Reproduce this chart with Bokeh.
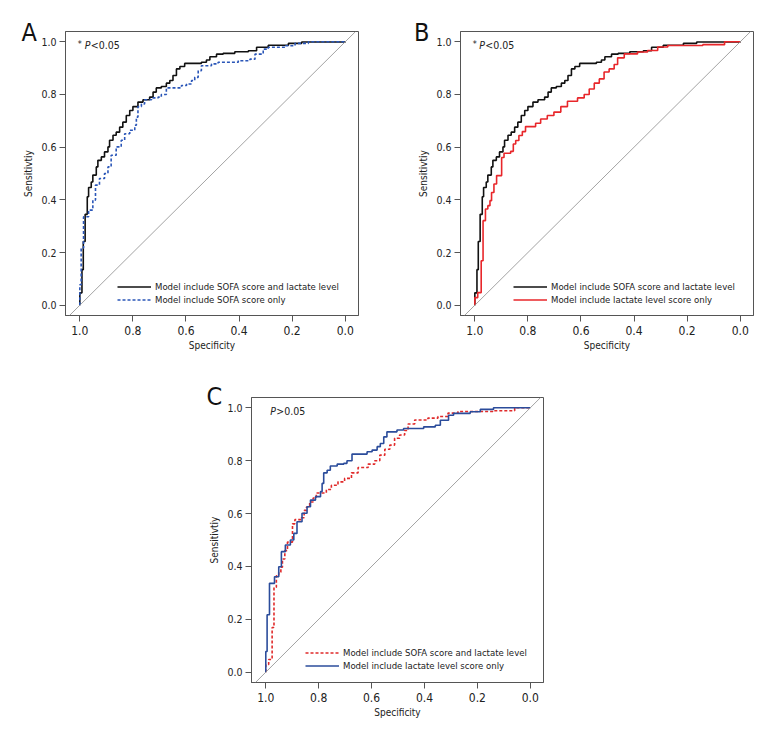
import numpy as np
from bokeh.plotting import figure
from bokeh.models import (Range1d, Slope, Label, Legend, LegendItem, Spacer,
                          FixedTicker, Title)
from bokeh.layouts import row, column
from bokeh.embed import file_html
from bokeh.resources import INLINE

FONT = "DejaVu Sans Condensed, Roboto, sans-serif"

# ---------------- data ----------------
tick_values = [0.0, 0.2, 0.4, 0.6, 0.8, 1.0]
tick_labels = ["0.0", "0.2", "0.4", "0.6", "0.8", "1.0"]

# Model include SOFA score and lactate level
combined_spec = [1.000, 1.000, 0.992, 0.987, 0.980, 0.972, 0.967, 0.957, 0.951, 0.938,
                 0.932, 0.919, 0.907, 0.894, 0.888, 0.875, 0.863, 0.850, 0.838, 0.825,
                 0.812, 0.800, 0.781, 0.762, 0.737, 0.724, 0.712, 0.693, 0.674, 0.661,
                 0.649, 0.636, 0.623, 0.605, 0.542, 0.523, 0.510, 0.485, 0.460, 0.416,
                 0.365, 0.334, 0.290, 0.214, 0.164, 0.000]
combined_sens = [0.000, 0.047, 0.135, 0.242, 0.345, 0.412, 0.447, 0.468, 0.494, 0.525,
                 0.550, 0.563, 0.582, 0.601, 0.626, 0.645, 0.657, 0.676, 0.695, 0.720,
                 0.739, 0.754, 0.771, 0.780, 0.790, 0.809, 0.825, 0.830, 0.843, 0.853,
                 0.872, 0.897, 0.906, 0.918, 0.922, 0.931, 0.943, 0.953, 0.956, 0.962,
                 0.966, 0.979, 0.987, 0.994, 0.999, 1.000]

# Model include SOFA score only
sofa_spec = [1.000, 1.000, 0.995, 0.986, 0.967, 0.951, 0.941, 0.926, 0.907, 0.894,
             0.882, 0.863, 0.844, 0.831, 0.812, 0.793, 0.787, 0.781, 0.768, 0.756,
             0.730, 0.705, 0.693, 0.674, 0.617, 0.598, 0.579, 0.567, 0.554, 0.542,
             0.504, 0.479, 0.403, 0.359, 0.340, 0.309, 0.290, 0.227, 0.189, 0.139,
             0.000]
sofa_sens = [0.000, 0.078, 0.217, 0.336, 0.361, 0.399, 0.456, 0.481, 0.500, 0.525,
             0.569, 0.601, 0.626, 0.651, 0.664, 0.683, 0.714, 0.754, 0.764, 0.780,
             0.787, 0.790, 0.800, 0.825, 0.834, 0.840, 0.853, 0.865, 0.890, 0.909,
             0.916, 0.922, 0.928, 0.934, 0.953, 0.972, 0.979, 0.985, 0.994, 1.000,
             1.000]

# Model include lactate level only
lact_spec = [1.000, 1.000, 0.989, 0.976, 0.969, 0.960, 0.951, 0.943, 0.937, 0.928,
             0.918, 0.899, 0.890, 0.865, 0.855, 0.846, 0.834, 0.821, 0.809, 0.771,
             0.752, 0.727, 0.702, 0.676, 0.651, 0.613, 0.588, 0.569, 0.550, 0.531,
             0.513, 0.494, 0.475, 0.462, 0.437, 0.387, 0.349, 0.311, 0.273, 0.141,
             0.059, 0.000]
lact_sens = [0.000, 0.029, 0.048, 0.169, 0.321, 0.365, 0.378, 0.397, 0.428, 0.460,
             0.492, 0.561, 0.577, 0.584, 0.612, 0.625, 0.644, 0.659, 0.678, 0.691,
             0.707, 0.720, 0.733, 0.754, 0.774, 0.787, 0.800, 0.821, 0.843, 0.859,
             0.885, 0.897, 0.914, 0.939, 0.954, 0.961, 0.967, 0.980, 0.986, 0.989,
             1.000, 1.000]

X_START, X_END = 1.054, -0.05
Y_START, Y_END = -0.039, 1.039
GRAY = "#555555"


def panel(letter, letter_dx, letter_standoff, frame_w, frame_h, bl, br, bt, bb,
          curves, legend_xy, ptext_parts):
    p = figure(width=bl + frame_w + br, height=bt + frame_h + bb,
               frame_width=frame_w, frame_height=frame_h,
               min_border_left=bl, min_border_right=br,
               min_border_top=bt, min_border_bottom=bb,
               x_range=Range1d(X_START, X_END), y_range=Range1d(Y_START, Y_END),
               output_backend="svg", toolbar_location=None,
               x_axis_label="Specificity", y_axis_label="Sensitivtiy")
    p.xgrid.visible = False
    p.ygrid.visible = False
    p.outline_line_color = GRAY
    p.outline_line_width = 1
    p.background_fill_color = "white"
    p.border_fill_color = "white"

    for ax, size in ((p.xaxis, "12px"), (p.yaxis, "10.5px")):
        ax.ticker = FixedTicker(ticks=tick_values)
        ax.major_label_overrides = {v: t for v, t in zip(tick_values, tick_labels)}
        ax.axis_line_color = GRAY
        ax.major_tick_line_color = GRAY
        ax.major_tick_out = 6
        ax.major_tick_in = 0
        ax.minor_tick_line_color = None
        ax.major_label_text_font = FONT
        ax.major_label_text_font_size = size
        ax.major_label_text_color = "#222222"
        ax.axis_label_text_font = FONT
        ax.axis_label_text_font_size = "10px"
        ax.axis_label_text_font_style = "normal"
        ax.axis_label_text_color = "#222222"
    p.xaxis.major_label_standoff = 4
    p.xaxis.axis_label_standoff = 2
    p.yaxis.major_label_standoff = 3
    p.yaxis.axis_label_standoff = 4

    # chance diagonal
    p.add_layout(Slope(gradient=-1, y_intercept=1, line_color="#8c8c8c",
                       line_width=0.8))

    items = []
    for (xs, ys, color, dash, label) in curves:
        r = p.step(xs, ys, mode="after", line_color=color, line_width=1.6,
                   line_dash=dash)
        items.append(LegendItem(label=label, renderers=[r]))

    legend = Legend(items=items, location=legend_xy, padding=0, margin=0,
                    spacing=0, label_height=13, glyph_height=13, glyph_width=34,
                    label_standoff=4, label_text_font=FONT,
                    label_text_font_size="9.5px", label_text_color="#222222",
                    border_line_color=None, background_fill_alpha=0)
    p.add_layout(legend)

    # P-value annotation
    for text, dx, dy, size, style in ptext_parts:
        p.add_layout(Label(x=1.0, y=0.989, x_offset=dx, y_offset=dy, text=text,
                           text_font=FONT, text_font_size=size,
                           text_font_style=style, text_baseline="middle",
                           text_align="left", text_color="#222222"))

    # panel letter (title straddling the top-left corner of the box)
    t = Title(text=letter, align="left", offset=letter_dx,
              text_font=FONT, text_font_size="25px",
              text_font_style="normal", text_color="#111111",
              standoff=letter_standoff)
    p.add_layout(t, "above")
    return p


pA = panel("A", -44, -30, 293, 284, 65, 32, 31, 42,
           [(combined_spec, combined_sens, "#111111", "solid",
             "Model include SOFA score and lactate level"),
            (sofa_spec, sofa_sens, "#2a56b8", "3 2",
             "Model include SOFA score only")],
           (52, 9),
           [("*", -2, 1, "9px", "normal"), ("P", 5, 0, "10.5px", "italic"),
            ("<0.05", 11, 0, "10.5px", "normal")])

pB = panel("B", -46.5, -30, 293, 284, 70, 27, 31, 42,
           [(combined_spec, combined_sens, "#111111", "solid",
             "Model include SOFA score and lactate level"),
            (lact_spec, lact_sens, "#e8262a", "solid",
             "Model include lactate level score only")],
           (53, 9),
           [("*", -2, 1, "9px", "normal"), ("P", 4.5, 0, "10.5px", "italic"),
            ("<0.05", 10.5, 0, "10.5px", "normal")])

pC = panel("C", -45, -26, 292, 285, 65, 30, 40, 42,
           [(lact_spec, lact_sens, "#e02a2a", "3 2",
             "Model include SOFA score and lactate level"),
            (sofa_spec, sofa_sens, "#2b4c9b", "solid",
             "Model include lactate level score only")],
           (54, 10),
           [("P", 4.5, 0, "10.5px", "italic"),
            (">0.05", 10.5, 0, "10.5px", "normal")])

layout = column(row(pA, pB), row(Spacer(width=186, height=10), pC))

open("out.html", "w").write(file_html(layout, INLINE))
